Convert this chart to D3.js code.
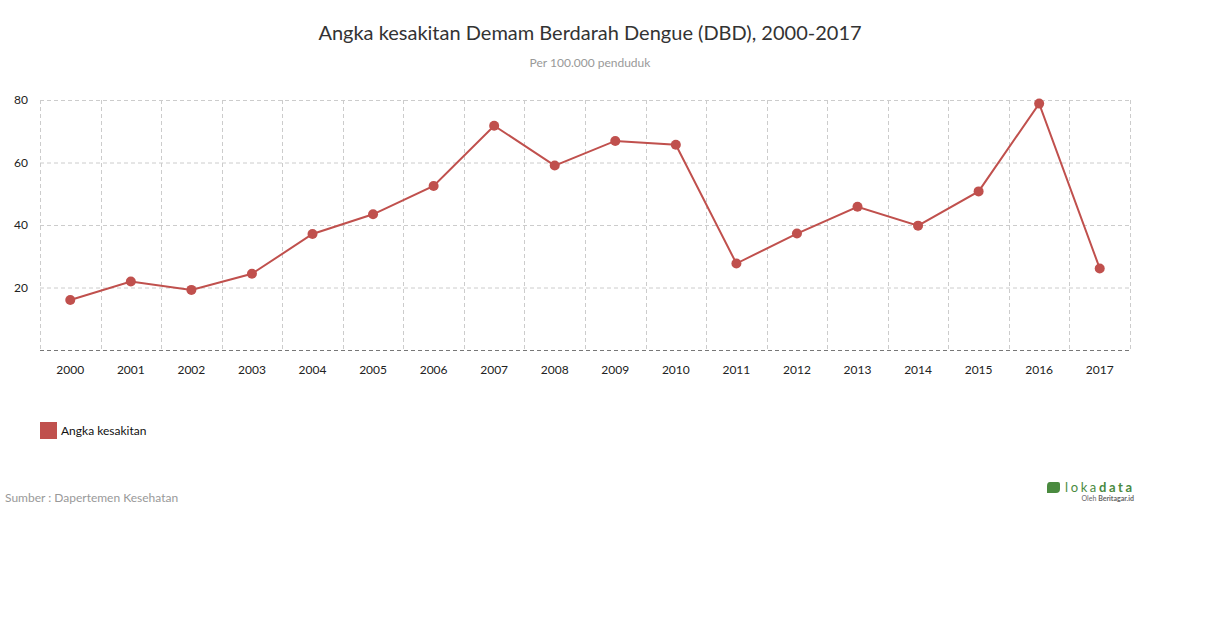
<!DOCTYPE html>
<html><head><meta charset="utf-8">
<script src="https://cdn.jsdelivr.net/npm/d3@7"></script>
<style>
body{margin:0;background:#fff;font-family:Lato,sans-serif;}
</style></head>
<body><svg id="c" width="1210" height="628"></svg>
<script>
const years = ["2000","2001","2002","2003","2004","2005","2006","2007","2008","2009","2010","2011","2012","2013","2014","2015","2016","2017"];
const values = [15.99,21.9,19.24,24.4,37.11,43.42,52.48,71.78,59.02,66.9,65.7,27.67,37.27,45.85,39.8,50.75,78.85,26.1];
const yTicks = [20,40,60,80];
const seriesName = "Angka kesakitan";
const color = "#c0504d";

const svg = d3.select("#c");
const L=40,R=1130,T=100,B=350;
const x = d3.scaleBand().domain(years).range([L,R]);
const y = d3.scaleLinear().domain([0,80]).range([B,T]);

svg.append("text").attr("x",590).attr("y",40).attr("text-anchor","middle")
  .attr("font-size",20).attr("fill","#333").text("Angka kesakitan Demam Berdarah Dengue (DBD), 2000-2017");
svg.append("text").attr("x",590).attr("y",67).attr("text-anchor","middle")
  .attr("font-size",12).attr("fill","#999").text("Per 100.000 penduduk");

const grid = svg.append("g");
grid.selectAll("line.h").data(yTicks).join("line")
  .attr("x1",L).attr("x2",R).attr("y1",d=>y(d)+0.5).attr("y2",d=>y(d)+0.5)
  .attr("stroke","#ccc").attr("stroke-dasharray","4,3");
const bounds = years.map(d=>x(d)).concat([R]);
grid.selectAll("line.v").data(bounds).join("line")
  .attr("x1",d=>Math.round(d)+0.5).attr("x2",d=>Math.round(d)+0.5).attr("y1",T).attr("y2",B)
  .attr("stroke","#ccc").attr("stroke-dasharray","4,3");
svg.append("line").attr("x1",L).attr("x2",R).attr("y1",B+0.5).attr("y2",B+0.5)
  .attr("stroke","#777").attr("stroke-dasharray","4,3");

svg.append("g").selectAll("text").data(yTicks).join("text")
  .attr("x",28).attr("y",d=>y(d)+4).attr("text-anchor","end")
  .attr("font-size",12).attr("fill","#222").text(d=>d);
svg.append("g").selectAll("text").data(years).join("text")
  .attr("x",d=>x(d)+x.bandwidth()/2).attr("y",374).attr("text-anchor","middle")
  .attr("font-size",12).attr("fill","#222").text(d=>d);

const data = years.map((d,i)=>({year:d,v:values[i]}));
const line = d3.line().x(d=>x(d.year)+x.bandwidth()/2).y(d=>y(d.v));
svg.append("path").datum(data).attr("d",line).attr("fill","none")
  .attr("stroke",color).attr("stroke-width",2);
svg.append("g").selectAll("circle").data(data).join("circle")
  .attr("cx",d=>x(d.year)+x.bandwidth()/2).attr("cy",d=>y(d.v)).attr("r",5).attr("fill",color);

svg.append("rect").attr("x",40).attr("y",422).attr("width",17).attr("height",17).attr("fill",color);
svg.append("text").attr("x",61).attr("y",435).attr("font-size",12).attr("fill","#111").text(seriesName);

svg.append("text").attr("x",5).attr("y",502).attr("font-size",12).attr("fill","#999").text("Sumber : Dapertemen Kesehatan");

const lg = svg.append("g");
lg.append("path").attr("d","M1050,482 h8 q2,0 2,2 v5 q0,4 -4,4 h-9 v-7 q0,-4 3,-4 z").attr("fill","#4a8a3f");
lg.append("text").attr("x",1065).attr("y",492).attr("font-size",13).attr("fill","#4a8a3f").attr("letter-spacing",2.6)
  .html('loka<tspan font-weight="bold">data</tspan>');
lg.append("text").attr("x",1134).attr("y",501).attr("text-anchor","end").attr("font-size",7).attr("fill","#666")
  .html('Oleh <tspan font-weight="bold">Beritagar.id</tspan>');
</script></body></html>
